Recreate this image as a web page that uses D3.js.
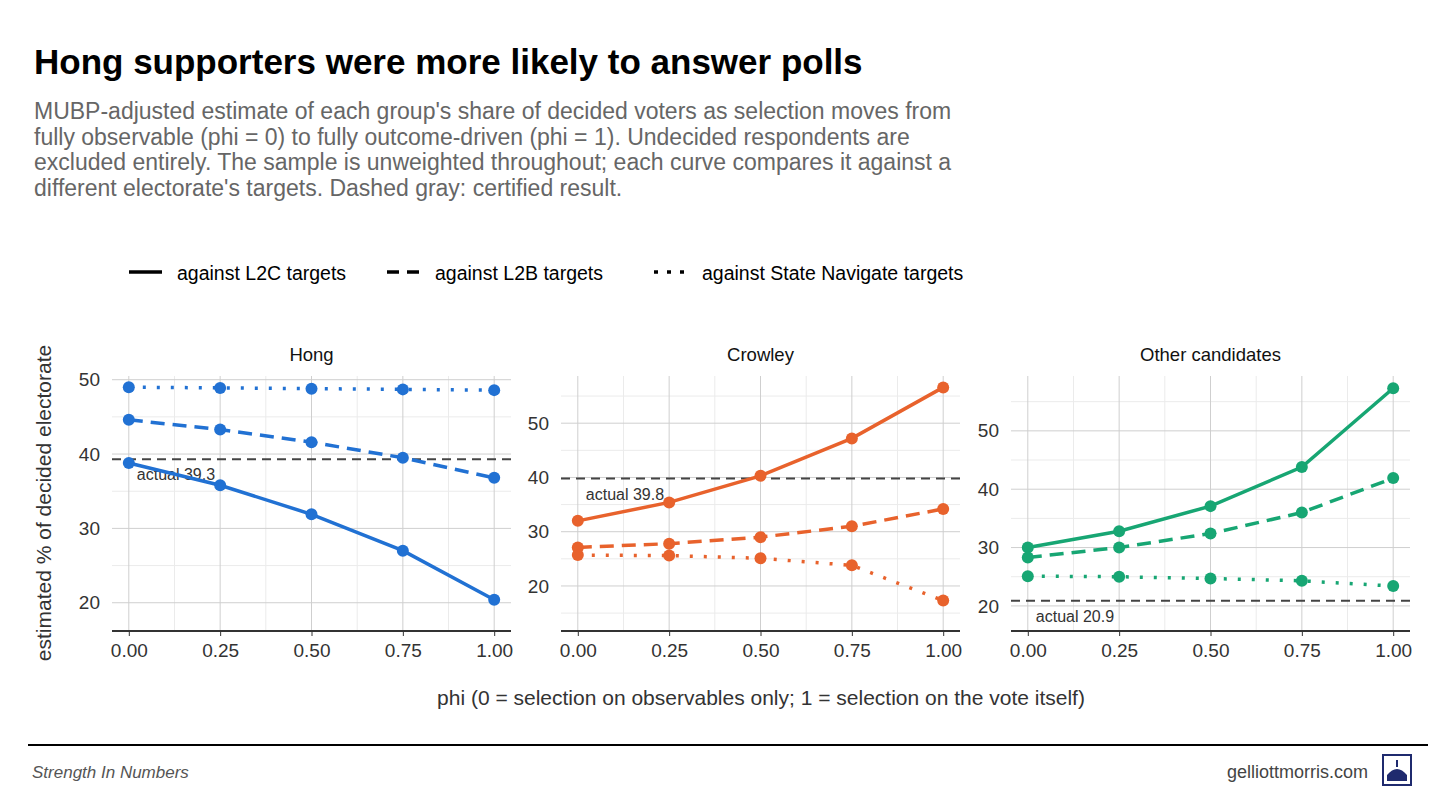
<!DOCTYPE html><html><head><meta charset="utf-8"><script src="https://cdn.jsdelivr.net/npm/d3@7"></script>
<style>body{margin:0;background:#fff;font-family:"Liberation Sans",Arial,sans-serif}</style></head><body><svg id="c" width="1456" height="793"></svg>
<script>
const phi=[0,0.25,0.5,0.75,1];
const panels=["Hong","Crowley","Other candidates"];
const colors=["#2171d3","#e8622c","#17a673"];
const actual=[39.3,39.8,20.9];
const l2c=[[38.8,35.8,31.9,27.0,20.4],[32.0,35.4,40.3,47.2,56.6],[30.0,32.8,37.1,43.8,57.3]];
const l2b=[[44.6,43.3,41.6,39.5,36.8],[27.1,27.8,29.0,31.0,34.2],[28.3,30.0,32.4,36.0,41.9]];
const sn=[[49.0,48.9,48.8,48.7,48.6],[25.7,25.6,25.1,23.8,17.3],[25.1,25.0,24.7,24.3,23.4]];
const yDomains=[[16.2,50.5],[11.7,58.7],[15.7,59.4]];
const yTicks=[[20,30,40,50],[20,30,40,50],[20,30,40,50]];
const xTicks=[0,0.25,0.5,0.75,1];
const seriesNames=["against L2C targets","against L2B targets","against State Navigate targets"];
const dashes=[null,"14,8","3,11"];

const svg=d3.select("#c");
svg.append("text").attr("x",34).attr("y",74).attr("font-size",35).attr("font-weight","bold").attr("fill","#000").text("Hong supporters were more likely to answer polls");
["MUBP-adjusted estimate of each group's share of decided voters as selection moves from","fully observable (phi = 0) to fully outcome-driven (phi = 1). Undecided respondents are","excluded entirely. The sample is unweighted throughout; each curve compares it against a","different electorate's targets. Dashed gray: certified result."].forEach((t,i)=>
 svg.append("text").attr("x",34).attr("y",119+i*25.5).attr("font-size",23).attr("fill","#666").text(t));

const lx=[129,387,654];
seriesNames.forEach((n,i)=>{
 svg.append("line").attr("x1",lx[i]).attr("x2",lx[i]+33).attr("y1",272).attr("y2",272).attr("stroke","#000").attr("stroke-width",3.5).attr("stroke-dasharray",i==0?null:(i==1?"12,8":"4,9"));
 svg.append("text").attr("x",lx[i]+48).attr("y",280).attr("font-size",19.5).attr("fill","#000").text(n);
});

const px=[[112,511],[561,960],[1011,1410]];
const pTop=376,pBot=631;
panels.forEach((name,p)=>{
 const g=svg.append("g");
 const x=d3.scaleLinear().domain([-0.046,1.046]).range(px[p]);
 const y=d3.scaleLinear().domain(yDomains[p]).range([pBot,pTop]);
 [0.125,0.375,0.625,0.875].forEach(v=>g.append("line").attr("x1",x(v)).attr("x2",x(v)).attr("y1",pTop).attr("y2",pBot).attr("stroke","#ebebeb"));
 d3.range(5,65,10).filter(v=>v>yDomains[p][0]&&v<yDomains[p][1]).forEach(v=>g.append("line").attr("x1",px[p][0]).attr("x2",px[p][1]).attr("y1",y(v)).attr("y2",y(v)).attr("stroke","#ebebeb"));
 xTicks.forEach(v=>g.append("line").attr("x1",x(v)).attr("x2",x(v)).attr("y1",pTop).attr("y2",pBot).attr("stroke","#cfcfcf"));
 yTicks[p].filter(v=>v<yDomains[p][1]).forEach(v=>g.append("line").attr("x1",px[p][0]).attr("x2",px[p][1]).attr("y1",y(v)).attr("y2",y(v)).attr("stroke","#cfcfcf"));
 g.append("line").attr("x1",px[p][0]).attr("x2",px[p][1]).attr("y1",pBot).attr("y2",pBot).attr("stroke","#333").attr("stroke-width",2);
 const xa=g.append("g").attr("transform",`translate(0,${pBot})`).call(d3.axisBottom(x).tickValues(xTicks).tickFormat(d3.format(".2f")).tickSize(5).tickPadding(8));
 xa.select(".domain").remove();
 xa.selectAll("line").attr("stroke","#333");
 xa.selectAll("text").attr("font-size",19).attr("fill","#333").attr("font-family","Liberation Sans, Arial");
 const ya=g.append("g").attr("transform",`translate(${px[p][0]},0)`).call(d3.axisLeft(y).tickValues(yTicks[p].filter(v=>v<yDomains[p][1])).tickSize(0).tickPadding(12));
 ya.select(".domain").remove();
 ya.selectAll("text").attr("font-size",19).attr("fill","#333").attr("font-family","Liberation Sans, Arial");
 g.append("text").attr("x",(px[p][0]+px[p][1])/2).attr("y",361).attr("text-anchor","middle").attr("font-size",18.5).attr("fill","#111").text(name);
 g.append("line").attr("x1",px[p][0]).attr("x2",px[p][1]).attr("y1",y(actual[p])).attr("y2",y(actual[p])).attr("stroke","#444").attr("stroke-width",2).attr("stroke-dasharray","9,6");
 g.append("text").attr("x",x(0)+8).attr("y",y(actual[p])+21).attr("font-size",16).attr("fill","#333").text("actual "+actual[p].toFixed(1));
 [l2c,l2b,sn].forEach((s,k)=>{
  const pts=phi.map((v,i)=>[v,s[p][i]]);
  g.append("path").attr("d",d3.line().x(d=>x(d[0])).y(d=>y(d[1]))(pts)).attr("fill","none").attr("stroke",colors[p]).attr("stroke-width",3.5).attr("stroke-dasharray",dashes[k]);
  g.selectAll(null).data(pts).enter().append("circle").attr("cx",d=>x(d[0])).attr("cy",d=>y(d[1])).attr("r",6).attr("fill",colors[p]);
 });
});
svg.append("text").attr("transform","translate(51,503) rotate(-90)").attr("text-anchor","middle").attr("font-size",21).attr("fill","#333").text("estimated % of decided electorate");
svg.append("text").attr("x",761).attr("y",705).attr("text-anchor","middle").attr("font-size",21).attr("fill","#333").text("phi  (0 = selection on observables only; 1 = selection on the vote itself)");
svg.append("line").attr("x1",28).attr("x2",1428).attr("y1",745).attr("y2",745).attr("stroke","#000").attr("stroke-width",2);
svg.append("text").attr("x",32).attr("y",778).attr("font-size",17).attr("font-style","italic").attr("fill","#555").text("Strength In Numbers");
svg.append("text").attr("x",1368).attr("y",778).attr("text-anchor","end").attr("font-size",18).attr("fill","#444").text("gelliottmorris.com");
const ic=svg.append("g").attr("transform","translate(1383,755)");
ic.append("rect").attr("width",28).attr("height",30).attr("fill","#fff").attr("stroke","#1f2a6e").attr("stroke-width",2);
ic.append("path").attr("d","M4,26 L24,26 L24,20 Q14,8 4,20 Z M13,12 L15,12 L15,5 L13,5 Z").attr("fill","#1f2a6e");
</script></body></html>
